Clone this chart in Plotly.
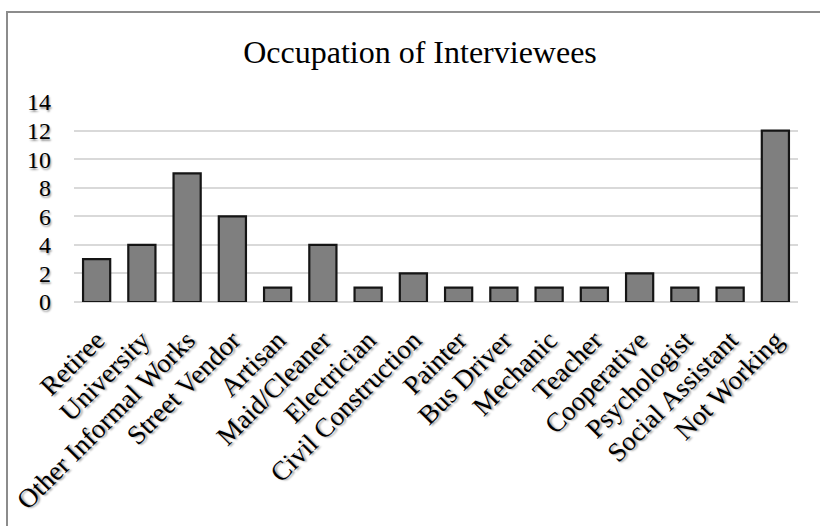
import plotly.graph_objects as go

categories = ["Retiree", "University", "Other Informal Works", "Street Vendor", "Artisan",
              "Maid/Cleaner", "Electrician", "Civil Construction", "Painter", "Bus Driver",
              "Mechanic", "Teacher", "Cooperative", "Psychologist", "Social Assistant", "Not Working"]
counts = [3, 4, 9, 6, 1, 4, 1, 2, 1, 1, 1, 1, 2, 1, 1, 12]
y_ticks = [0, 2, 4, 6, 8, 10, 12, 14]

W, H = 820, 526
ML, MR, MT, MB = 74, 22, 102, 224
pw, ph = W - ML - MR, H - MT - MB

def px_x(x):
    return (x - ML) / pw

def px_y(y):
    return (H - MB - y) / ph

FONT = "Liberation Serif, Times New Roman, serif"
SHADOW = "1px 2px 2px #9a9a9a"

fig = go.Figure(go.Bar(
    x=categories, y=counts,
    marker=dict(color="#7f7f7f", line=dict(color="#151515", width=2.2)),
    hoverinfo="x+y",
))

fig.update_layout(
    width=W, height=H,
    margin=dict(l=ML, r=MR, t=MT, b=MB, pad=0),
    paper_bgcolor="white", plot_bgcolor="white",
    bargap=0.4,
    showlegend=False,
    font=dict(family=FONT, color="black", size=20),
    title=dict(text="Occupation of Interviewees", x=420 / W, xref="container", xanchor="center",
               y=1 - 52 / H, yanchor="middle",
               font=dict(family=FONT, size=32, color="black")),
    xaxis=dict(tickangle=-45, showgrid=False, showline=False, ticks="",
               tickfont=dict(family=FONT, size=27, color="black", shadow=SHADOW),
               ticklabelstandoff=16),
    yaxis=dict(range=[0, 14], tickvals=y_ticks, showgrid=True, gridcolor="#d9d9d9", gridwidth=1.5,
               zeroline=True, zerolinecolor="#d9d9d9", zerolinewidth=1.5, showline=False, ticks="",
               tickfont=dict(family=FONT, size=24, color="black", shadow=SHADOW),
               ticklabelstandoff=22),
    shapes=[dict(type="rect", xref="paper", yref="paper",
                 x0=px_x(7), x1=px_x(840), y0=px_y(560), y1=px_y(12),
                 line=dict(color="#8c8c8c", width=2), fillcolor="rgba(0,0,0,0)", layer="below")],
)

fig.write_html("out.html")
